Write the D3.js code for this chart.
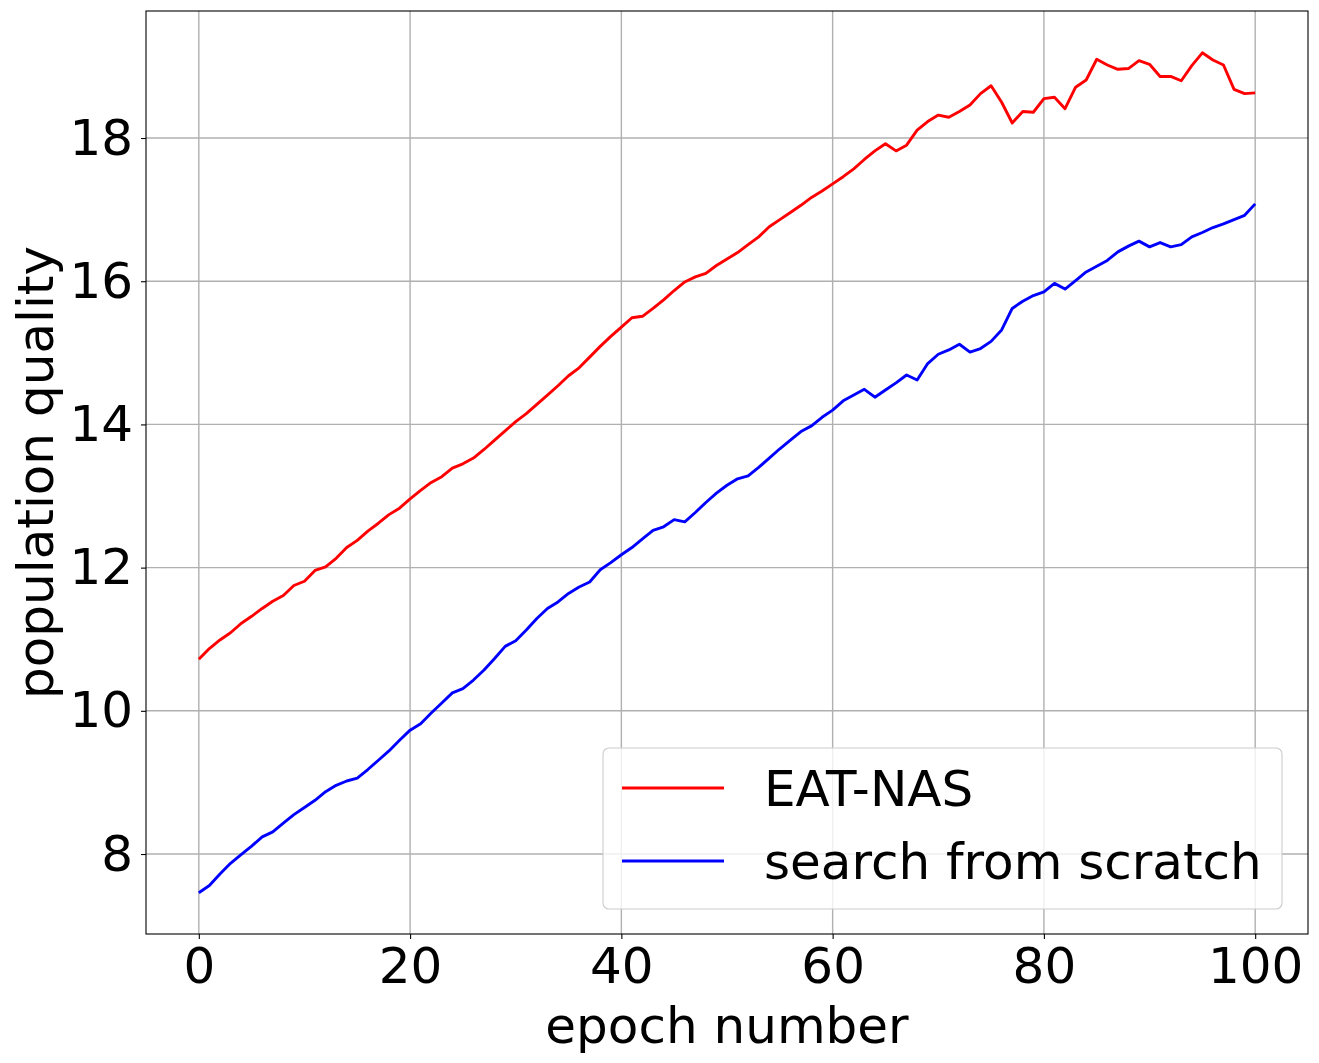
<!DOCTYPE html>
<html>
<head>
<meta charset="utf-8">
<script src="https://cdn.jsdelivr.net/npm/d3@7"></script>
<style>
  body { margin: 0; background: #fff; }
  svg text { font-family: "DejaVu Sans", sans-serif; fill: #000; }
</style>
</head>
<body>
<div id="chart"></div>
<script>
var w = 1319, h = 1063;

// series, one value per epoch 0..100
var eatNas = [10.72,10.87,10.99,11.09,11.22,11.32,11.43,11.53,11.61,11.75,
  11.81,11.96,12.01,12.13,12.28,12.38,12.51,12.62,12.74,12.83,
  12.96,13.08,13.19,13.27,13.39,13.45,13.53,13.65,13.78,13.91,
  14.04,14.15,14.28,14.41,14.54,14.68,14.79,14.94,15.09,15.23,
  15.36,15.49,15.51,15.62,15.74,15.87,15.99,16.06,16.11,16.22,
  16.31,16.40,16.51,16.62,16.76,16.86,16.96,17.06,17.17,17.26,
  17.36,17.46,17.57,17.70,17.82,17.92,17.82,17.90,18.11,18.23,
  18.32,18.29,18.37,18.46,18.62,18.73,18.50,18.21,18.37,18.36,
  18.55,18.57,18.41,18.71,18.81,19.10,19.02,18.96,18.97,19.08,
  19.03,18.86,18.86,18.80,19.01,19.19,19.09,19.02,18.68,18.62,
  18.63];

var fromScratch = [7.46,7.56,7.72,7.87,7.99,8.11,8.24,8.31,8.43,8.55,
  8.65,8.75,8.87,8.96,9.02,9.06,9.18,9.31,9.44,9.59,
  9.73,9.82,9.97,10.11,10.25,10.31,10.43,10.57,10.73,10.90,
  10.98,11.13,11.29,11.43,11.52,11.64,11.73,11.80,11.97,12.07,
  12.18,12.28,12.40,12.52,12.57,12.67,12.64,12.77,12.91,13.04,
  13.15,13.24,13.28,13.40,13.53,13.66,13.78,13.90,13.98,14.10,
  14.20,14.33,14.41,14.49,14.38,14.48,14.58,14.69,14.62,14.85,
  14.98,15.04,15.12,15.01,15.06,15.16,15.32,15.62,15.72,15.80,
  15.85,15.97,15.89,16.01,16.13,16.21,16.29,16.41,16.49,16.56,
  16.48,16.54,16.48,16.51,16.62,16.68,16.75,16.80,16.86,16.92,
  17.08];

var seriesNames = ["EAT-NAS", "search from scratch"];
var seriesColors = ["#ff0000", "#0000ff"];
var xTicks = [0, 20, 40, 60, 80, 100];
var yTicks = [8, 10, 12, 14, 16, 18];

// plot box (window.top is reserved, so prefix these)
var pLeft = 146, pRight = 1308, pTop = 11, pBottom = 934;
var fs = 50;

var svg = d3.select('#chart').append('svg')
  .attr('width', w)
  .attr('height', h);

var x = d3.scaleLinear().domain([-5, 105]).range([pLeft, pRight]);
var y = d3.scaleLinear().domain([6.883, 19.774]).range([pBottom, pTop]);

// grid
svg.append('g').selectAll('line')
  .data(xTicks)
  .enter().append('line')
  .attr('x1', function(d) { return x(d); })
  .attr('x2', function(d) { return x(d); })
  .attr('y1', pTop).attr('y2', pBottom)
  .attr('stroke', '#b0b0b0').attr('stroke-width', 1.4);

svg.append('g').selectAll('line')
  .data(yTicks)
  .enter().append('line')
  .attr('y1', function(d) { return y(d); })
  .attr('y2', function(d) { return y(d); })
  .attr('x1', pLeft).attr('x2', pRight)
  .attr('stroke', '#b0b0b0').attr('stroke-width', 1.4);

// series lines
var line = d3.line()
  .x(function(d, i) { return x(i); })
  .y(function(d) { return y(d); });

[eatNas, fromScratch].forEach(function(s, k) {
  svg.append('path')
    .datum(s)
    .attr('d', line)
    .attr('fill', 'none')
    .attr('stroke', seriesColors[k])
    .attr('stroke-width', 2.9)
    .attr('stroke-linejoin', 'round');
});

// axes
var xAxis = d3.axisBottom(x).tickValues(xTicks).tickSize(5).tickPadding(8);
var yAxis = d3.axisLeft(y).tickValues(yTicks).tickSize(5).tickPadding(8);

var gx = svg.append('g').attr('transform', 'translate(0,' + pBottom + ')').call(xAxis);
var gy = svg.append('g').attr('transform', 'translate(' + pLeft + ',0)').call(yAxis);

[gx, gy].forEach(function(g) {
  g.select('.domain').remove();
  g.selectAll('.tick line').attr('stroke', '#000').attr('stroke-width', 1.1);
  g.selectAll('.tick text')
    .attr('font-family', '"DejaVu Sans", sans-serif')
    .attr('font-size', fs)
    .attr('fill', '#000');
});
gx.selectAll('.tick text').attr('dy', '0.71em');

// frame
svg.append('rect')
  .attr('x', pLeft).attr('y', pTop)
  .attr('width', pRight - pLeft).attr('height', pBottom - pTop)
  .attr('fill', 'none')
  .attr('stroke', '#000')
  .attr('stroke-width', 1.1);

// axis labels
svg.append('text')
  .attr('x', (pLeft + pRight) / 2)
  .attr('y', 1043)
  .attr('text-anchor', 'middle')
  .attr('font-size', fs)
  .text('epoch number');

svg.append('text')
  .attr('transform', 'translate(53,' + ((pTop + pBottom) / 2) + ') rotate(-90)')
  .attr('text-anchor', 'middle')
  .attr('font-size', fs)
  .text('population quality');

// legend
var legend = svg.append('g');
legend.append('rect')
  .attr('x', 603).attr('y', 748)
  .attr('width', 679).attr('height', 161)
  .attr('rx', 6).attr('ry', 6)
  .attr('fill', '#fff').attr('fill-opacity', 0.8)
  .attr('stroke', '#cccccc').attr('stroke-width', 1.1);

seriesNames.forEach(function(name, k) {
  var ly = 788 + k * 73;
  legend.append('line')
    .attr('x1', 622).attr('x2', 724)
    .attr('y1', ly).attr('y2', ly)
    .attr('stroke', seriesColors[k])
    .attr('stroke-width', 2.9);
  legend.append('text')
    .attr('x', 764)
    .attr('y', ly)
    .attr('dy', '0.36em')
    .attr('font-size', fs)
    .text(name);
});
</script>
</body>
</html>
